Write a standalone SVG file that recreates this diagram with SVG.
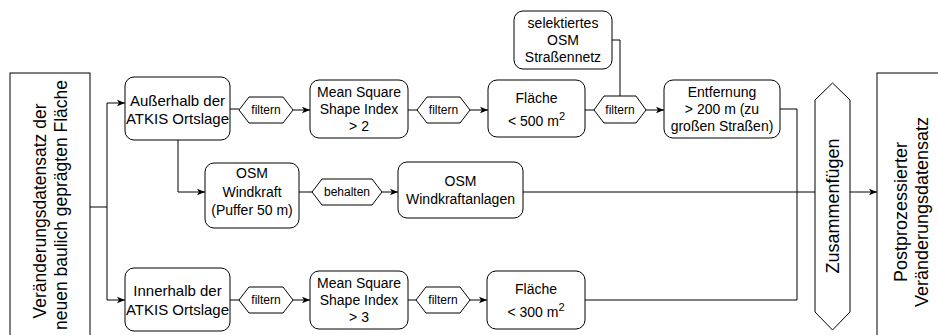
<svg xmlns="http://www.w3.org/2000/svg" width="938" height="335" viewBox="0 0 938 335">
<defs>
<marker id="arr" viewBox="0 0 10 10" refX="10" refY="5" markerWidth="8" markerHeight="8" markerUnits="userSpaceOnUse" orient="auto">
<path d="M0,1 L10,5 L0,9 L2.5,5 Z" fill="#000"/>
</marker>
<style>
.b{fill:#fff;stroke:#000;stroke-width:1}
.c{fill:none;stroke:#000;stroke-width:1}
.t{font-family:"Liberation Sans",Arial,sans-serif;font-size:14px;fill:#000;text-anchor:middle}
.t15{font-size:15px}
.t12{font-size:12px}
.t18{font-size:18px}
.t17{font-size:17.5px}
</style>
</defs>
<rect width="938" height="335" fill="#fff"/>
<g id="connectors">
<path class="c" d="M90,207 H107"/>
<path class="c" d="M107,207 V103 H125" marker-end="url(#arr)"/>
<path class="c" d="M107,207 V300 H125" marker-end="url(#arr)"/>
<path class="c" d="M230,109 H239"/>
<path class="c" d="M293,110 H310" marker-end="url(#arr)"/>
<path class="c" d="M408,110 H417"/>
<path class="c" d="M470,110 H488" marker-end="url(#arr)"/>
<path class="c" d="M585,110 H594"/>
<path class="c" d="M612,40 H620 V96"/>
<path class="c" d="M646,110 H664" marker-end="url(#arr)"/>
<path class="c" d="M780,109 H797 V300 H585"/>
<path class="c" d="M178,140 V192 H205" marker-end="url(#arr)"/>
<path class="c" d="M299,192 H312"/>
<path class="c" d="M382,192 H398" marker-end="url(#arr)"/>
<path class="c" d="M523,192 H877" marker-end="url(#arr)"/>
<path class="c" d="M230,300 H239"/>
<path class="c" d="M293,300 H310" marker-end="url(#arr)"/>
<path class="c" d="M408,300 H416"/>
<path class="c" d="M470,300 H487" marker-end="url(#arr)"/>
</g>
<g id="n-input">
<rect class="b" x="10" y="73" width="80" height="290"/>
<g transform="translate(50,205) rotate(-90)"><text class="t t17" x="-6" y="-4">Veränderungsdatensatz der</text><text class="t t17" x="0" y="17">neuen baulich geprägten Fläche</text></g>
</g>
<g id="n-aussen">
<rect class="b" x="125" y="77" width="105" height="63" rx="9"/>
<text class="t t15" x="177.5" y="105.5">Außerhalb der</text>
<text class="t t15" x="177.5" y="124">ATKIS Ortslage</text>
</g>
<g id="n-f1">
<polygon class="b" points="239,110 249,97 283,97 293,110 283,123 249,123"/>
<text class="t t12" x="266" y="114">filtern</text>
</g>
<g id="n-msi1">
<rect class="b" x="310" y="80" width="98" height="58" rx="9"/>
<text class="t" x="359" y="97">Mean Square</text>
<text class="t" x="359" y="114">Shape Index</text>
<text class="t" x="359" y="131">&gt; 2</text>
</g>
<g id="n-f2">
<polygon class="b" points="417,110 427,97 460,97 470,110 460,123 427,123"/>
<text class="t t12" x="443.5" y="114">filtern</text>
</g>
<g id="n-fl1">
<rect class="b" x="488" y="80" width="97" height="57" rx="9"/>
<text class="t" x="536.5" y="103">Fläche</text>
<text class="t" x="536.5" y="126">&lt; 500 m<tspan font-size="11" dy="-6">2</tspan></text>
</g>
<g id="n-sel">
<rect class="b" x="514" y="11" width="98" height="58" rx="9"/>
<text class="t" x="563" y="28">selektiertes</text>
<text class="t" x="563" y="45">OSM</text>
<text class="t" x="563" y="62">Straßennetz</text>
</g>
<g id="n-f3">
<polygon class="b" points="594,110 604,96 636,96 646,110 636,123 604,123"/>
<text class="t t12" x="620" y="114">filtern</text>
</g>
<g id="n-ent">
<rect class="b" x="664" y="80" width="116" height="58" rx="9"/>
<text class="t" x="722" y="97">Entfernung</text>
<text class="t" x="722" y="114">&gt; 200 m (zu</text>
<text class="t" x="722" y="131">großen Straßen)</text>
</g>
<g id="n-wk">
<rect class="b" x="205" y="163" width="94" height="65" rx="9"/>
<text class="t" x="252" y="178">OSM</text>
<text class="t" x="252" y="197">Windkraft</text>
<text class="t" x="252" y="215">(Puffer 50 m)</text>
</g>
<g id="n-beh">
<polygon class="b" points="312,192 322,179 372,179 382,192 372,205 322,205"/>
<text class="t t12" x="347" y="196">behalten</text>
</g>
<g id="n-wka">
<rect class="b" x="398" y="162" width="125" height="56" rx="9"/>
<text class="t" x="460.5" y="186">OSM</text>
<text class="t" x="460.5" y="204">Windkraftanlagen</text>
</g>
<g id="n-inn">
<rect class="b" x="125" y="268" width="105" height="63" rx="9"/>
<text class="t t15" x="177.5" y="296">Innerhalb der</text>
<text class="t t15" x="177.5" y="314.5">ATKIS Ortslage</text>
</g>
<g id="n-f4">
<polygon class="b" points="239,300 249,287 283,287 293,300 283,313 249,313"/>
<text class="t t12" x="266" y="304">filtern</text>
</g>
<g id="n-msi2">
<rect class="b" x="310" y="271" width="98" height="58" rx="9"/>
<text class="t" x="359" y="288">Mean Square</text>
<text class="t" x="359" y="305">Shape Index</text>
<text class="t" x="359" y="322">&gt; 3</text>
</g>
<g id="n-f5">
<polygon class="b" points="416,300 426,287 460,287 470,300 460,313 426,313"/>
<text class="t t12" x="443" y="304">filtern</text>
</g>
<g id="n-fl2">
<rect class="b" x="487" y="271" width="98" height="58" rx="9"/>
<text class="t" x="536" y="294">Fläche</text>
<text class="t" x="536" y="317">&lt; 300 m<tspan font-size="11" dy="-6">2</tspan></text>
</g>
<g id="n-zus">
<polygon class="b" points="832.5,83 850,100 850,312 832.5,330 815,312 815,100"/>
<g transform="translate(832.5,206) rotate(-90)"><text class="t t18" x="0" y="6.5">Zusammenfügen</text></g>
</g>
<g id="n-post">
<rect class="b" x="877" y="73" width="70" height="290"/>
<g transform="translate(911,212) rotate(-90)"><text class="t t18" x="0" y="-4">Postprozessierter</text><text class="t t18" x="0" y="17">Veränderungsdatensatz</text></g>
</g>
</svg>
